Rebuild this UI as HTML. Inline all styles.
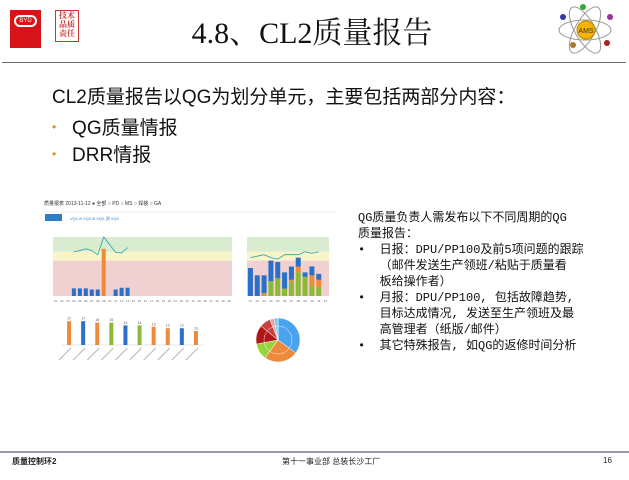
<!DOCTYPE html>
<html><head><meta charset="utf-8"><style>
body{margin:0;width:629px;height:480px;background:#fff;position:relative;overflow:hidden;font-family:"Liberation Sans","Noto Sans CJK SC",sans-serif}
.a{position:absolute;white-space:nowrap}
</style></head><body>
<div class="a" style="left:10px;top:10px;width:31px;height:38px;background:#d7141a"><div style="margin:5px 4px;width:23px;height:12px;border:2px solid #fff;border-radius:8px;box-sizing:border-box;color:#fff;font-size:6px;text-align:center;line-height:8px">BYD</div></div>
<div class="a" style="left:55px;top:10px;width:22px;height:30px;border:1px solid #c33;color:#c33;font:bold 8px 'Noto Serif CJK SC',serif;line-height:9px;text-align:center;white-space:normal">技术品质责任</div>
<div class="a" style="left:162px;top:8px;width:300px;text-align:center;font:30px 'Liberation Serif','Noto Serif CJK SC',serif;color:#111">4.8、CL2质量报告</div>
<svg class="a" style="left:555px;top:2px" width="60" height="56"><ellipse cx="30" cy="28" rx="26" ry="10" fill="none" stroke="#999"/><ellipse cx="30" cy="28" rx="26" ry="10" fill="none" stroke="#999" transform="rotate(60 30 28)"/><ellipse cx="30" cy="28" rx="26" ry="10" fill="none" stroke="#999" transform="rotate(-60 30 28)"/><circle cx="31" cy="28" r="9" fill="#f5b400" stroke="#b80"/><text x="31" y="31" font-size="7" text-anchor="middle" fill="#333">AMS</text><circle cx="28" cy="5" r="3" fill="#3a3"/><circle cx="8" cy="15" r="3" fill="#33a"/><circle cx="55" cy="15" r="3" fill="#939"/><circle cx="52" cy="41" r="3" fill="#a22"/><circle cx="18" cy="43" r="3" fill="#a73"/></svg>
<div class="a" style="left:2px;top:62px;width:624px;height:1px;background:#666"></div>
<div class="a" style="left:52px;top:82px;font-size:19px;color:#111">CL2质量报告以QG为划分单元，主要包括两部分内容：</div>
<div class="a" style="left:52px;top:113px;font-size:19px;color:#111"><span style="color:#e08a2a;font-size:12px;position:relative;top:-3px">•</span>&nbsp;&nbsp;&nbsp;QG质量情报</div>
<div class="a" style="left:52px;top:140px;font-size:19px;color:#111"><span style="color:#e08a2a;font-size:12px;position:relative;top:-3px">•</span>&nbsp;&nbsp;&nbsp;DRR情报</div>
<div class="a" style="left:358px;top:210px;font:12px/16px 'Liberation Mono','Noto Sans CJK SC',monospace;color:#111">QG质量负责人需发布以下不同周期的QG<br>质量报告：<br>•&nbsp;&nbsp;日报：DPU/PP100及前5项问题的跟踪<br>&nbsp;&nbsp;&nbsp;（邮件发送生产领班/粘贴于质量看<br>&nbsp;&nbsp;&nbsp;板给操作者）<br>•&nbsp;&nbsp;月报：DPU/PP100, 包括故障趋势,<br>&nbsp;&nbsp;&nbsp;目标达成情况, 发送至生产领班及最<br>&nbsp;&nbsp;&nbsp;高管理者（纸版/邮件）<br>•&nbsp;&nbsp;其它特殊报告, 如QG的返修时间分析</div>
<svg id="c" class="a" style="left:40px;top:190px" width="300" height="180" font-family="Liberation Sans,Noto Sans CJK SC,sans-serif"></svg>
<div class="a" style="left:0;top:451px;width:629px;height:2px;background:#99a"></div>
<div class="a" style="left:12px;top:456px;font-size:8px;font-weight:bold;color:#222">质量控制环2</div>
<div class="a" style="left:282px;top:456px;font-size:8px;color:#222">第十一事业部 总装长沙工厂</div>
<div class="a" style="left:603px;top:456px;font-size:8px;color:#222">16</div>
<script>
const dailyDays=["01","02","03","04","05","06","07","08","09","10","11","12","13","14","15","16","17","18","19","20","21","22","23","24","25","26","27","28","29","30"];
const dailyBars=[0,0,0,1.3,1.3,1.3,1.1,1.1,8.0,0,1.1,1.4,1.4,0,0,0,0,0,0,0,0,0,0,0,0,0,0,0,0,0];
const dailyLine=[null,null,null,7.5,7.7,8,7.7,7,10,null,7.4,7.3,8.2];
const monthCats=["01","02","03","04","05","06","07","08","09","10","11","12"];
const monthBlue=[1.9,1.4,1.2,1.4,1.1,1.1,0.9,0.6,0.3,0.6,0.4,0];
const monthOrange=[0,0,0.1,0,0,0,0.1,0.4,0,0.7,0.5,0];
const monthGreen=[0,0,0.1,1.0,1.2,0.5,1.0,1.6,1.3,0.7,0.6,0];
const monthLine=[2.6,2.7,2.8,2.6,2.5,2.8,2.8,2.8,3.0,2.9,3.0,null];
const topIssues=[17,17,16,16,14,14,13,12,12,10];
const topColors=["#ee8a3c","#2a6fc8","#ee8a3c","#8bbb34","#2a6fc8","#8bbb34","#ee8a3c","#ee8a3c","#2a6fc8","#ee8a3c"];
const pieVals=[35,25,12,14,8,3,3];
const pieCols=["#4aa3ee","#ee8a3c","#9ad23c","#b01818","#c84040","#e9a0a0","#7cc8ee"];
const s=document.getElementById('c');const N='http://www.w3.org/2000/svg';
const OX=40,OY=190;
function el(t,a,p){const e=document.createElementNS(N,t);for(const k in a)e.setAttribute(k,a[k]);(p||s).appendChild(e);return e;}
// header
let t=el('text',{x:4,y:15,'font-size':5,fill:'#333'});t.textContent='质量报表  2013-11-12  ● 全部 ○ PD ○ MS ○ 焊装 ○ GA';


let r=el('rect',{x:5,y:24,width:17,height:7,fill:'#2a80c8'});


t=el('text',{x:30,y:30,'font-size':4,fill:'#2a80c8'});t.textContent='VQ1-B    VQ2-B    VQ2-测  VQ3';
el('line',{x1:4,y1:22,x2:296,y2:22,stroke:'#ddd','stroke-width':0.5});
// daily chart
const x0=53-OX,x1=232-OX,yT=237-OY,yB=296-OY;
function dy(v){return yB-(v/10)*(yB-yT);}
el('rect',{x:x0,y:dy(10),width:x1-x0,height:dy(7.5)-dy(10),fill:'#d9ecd0'});
el('rect',{x:x0,y:dy(7.5),width:x1-x0,height:dy(6)-dy(7.5),fill:'#f8f6c8'});
el('rect',{x:x0,y:dy(6),width:x1-x0,height:yB-dy(6),fill:'#f0d0d0'});
const bw=(x1-x0)/dailyDays.length;
dailyDays.forEach((d,i)=>{const cx=x0+bw*(i+0.5);const v=dailyBars[i];
 if(v>0){const b=el('rect',{x:cx-2,y:dy(v),width:4,height:yB-dy(v),fill:v>5?'#ee8a3c':'#2a6fc8'});
 
 }
 const l=el('text',{x:cx,y:yB+6,'font-size':3,'text-anchor':'middle',fill:'#666'});l.textContent=d;});
let pts=[];dailyLine.forEach((v,i)=>{if(v!=null)pts.push([x0+bw*(i+0.5),dy(v)]);});
let pl=el('polyline',{points:pts.map(p=>p.join(',')).join(' '),fill:'none',stroke:'#27a0a8','stroke-width':0.8});


// monthly chart
const m0=247-OX,m1=329-OX;function my(v){return yB-(v/4)*(yB-yT);}
el('rect',{x:m0,y:my(4),width:m1-m0,height:my(3)-my(4),fill:'#d9ecd0'});
el('rect',{x:m0,y:my(3),width:m1-m0,height:my(2.4)-my(3),fill:'#f8f6c8'});
el('rect',{x:m0,y:my(2.4),width:m1-m0,height:yB-my(2.4),fill:'#f0d0d0'});
monthCats.forEach((c,i)=>{const X=m0+((m1-m0)/12)*(i+0.5);
 let base=yB;[[monthGreen[i],'#8bbb34'],[monthOrange[i],'#ee8a3c'],[monthBlue[i],'#2a6fc8']].forEach(([v,col])=>{if(v>0){const h=yB-my(v);const b=el('rect',{x:X-2.5,y:base-h,width:5,height:h,fill:col});
 
 base-=h;}});
 const l=el('text',{x:X,y:yB+6,'font-size':3,'text-anchor':'middle',fill:'#666'});l.textContent=c;});
pts=[];monthLine.forEach((v,i)=>{if(v!=null)pts.push([m0+((m1-m0)/12)*(i+0.5),my(v)]);});
pl=el('polyline',{points:pts.map(p=>p.join(',')).join(' '),fill:'none',stroke:'#27a0a8','stroke-width':0.8});


// top issues
const b0=62-OX,b1=203-OX,bT=317-OY,bB=345-OY;function by(v){return bB-(v/20)*(bB-bT);}
el('line',{x1:b0,y1:bB,x2:b1,y2:bB,stroke:'#ccc','stroke-width':0.5});
const iw=(b1-b0)/topIssues.length;
topIssues.forEach((v,i)=>{const X=b0+iw*(i+0.5);const b=el('rect',{x:X-2,y:by(v),width:4,height:bB-by(v),fill:topColors[i]});
 
 
 const l=el('text',{x:X,y:by(v)-1.5,'font-size':3.5,'text-anchor':'middle',fill:'#555'});l.textContent=v;
 el('line',{x1:X+2,y1:bB+3,x2:X-10,y2:bB+15,stroke:'#bbb','stroke-width':1.2});});
// pie
const pcx=278-OX,pcy=340-OY;let tot=pieVals.reduce((a,b)=>a+b,0),ang=-Math.PI/2;
pieVals.forEach((v,i)=>{const a2=ang+v/tot*2*Math.PI;
 [[22,'1'],[14,'0.9']].forEach(([R,o])=>{const p=el('path',{d:`M${pcx},${pcy}L${pcx+R*Math.cos(ang)},${pcy+R*Math.sin(ang)}A${R},${R} 0 ${a2-ang>Math.PI?1:0} 1 ${pcx+R*Math.cos(a2)},${pcy+R*Math.sin(a2)}Z`,fill:pieCols[i],stroke:'#fff','stroke-width':0.5,opacity:o});
 
 });
 ang=a2;});
</script>
</body></html>
